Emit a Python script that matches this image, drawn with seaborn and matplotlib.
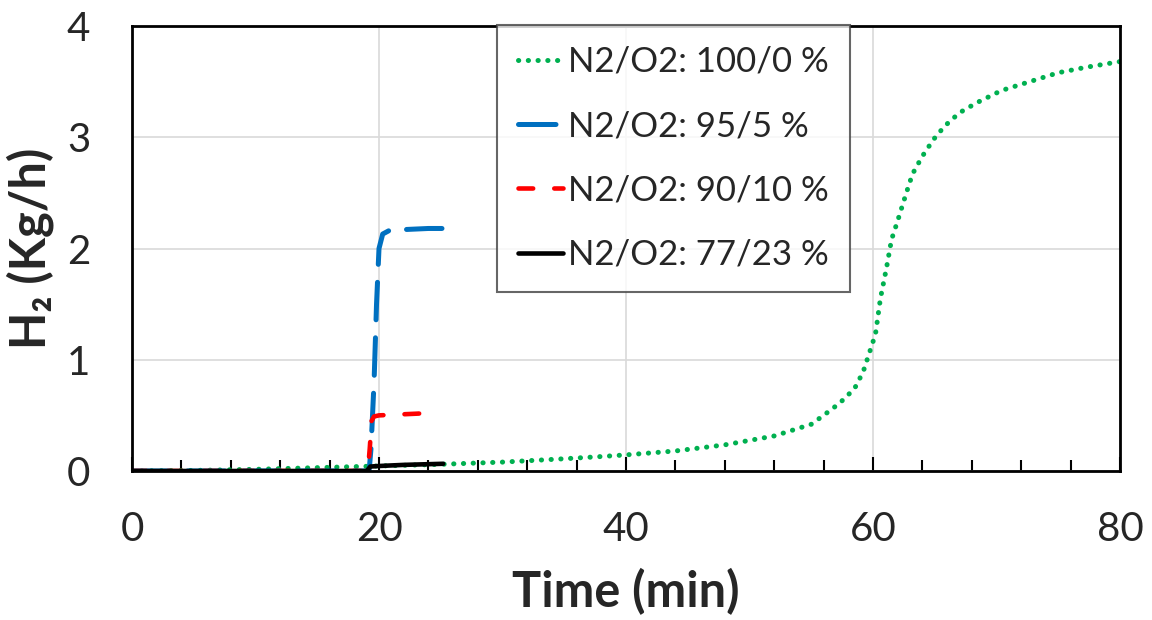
import numpy as np
import pandas as pd
import matplotlib
matplotlib.use("Agg")
import matplotlib.pyplot as plt
import seaborn as sns
from matplotlib.ticker import MultipleLocator

# ---- data ----
green_t = [0, 5, 10, 15, 20, 25, 30, 35, 38, 40, 44, 48, 52, 55, 56, 57.3, 58.5, 59.2,
           59.7, 60.2, 60.6, 61.1, 61.5, 62.0, 62.7, 63.2, 64.0, 64.9, 65.8, 67.0, 68.4,
           70.4, 72.7, 75.0, 77.3, 80]
green_v = [0.0, 0.005, 0.015, 0.03, 0.045, 0.06, 0.08, 0.11, 0.13, 0.145, 0.18, 0.235,
           0.315, 0.42, 0.50, 0.61, 0.74, 0.89, 1.06, 1.23, 1.55, 1.83, 2.08, 2.25, 2.50,
           2.67, 2.83, 2.98, 3.10, 3.22, 3.31, 3.42, 3.50, 3.58, 3.63, 3.68]

blue_t = [0, 19.2, 19.35, 19.6, 19.8, 20.0, 20.3, 20.8, 22, 24, 25.1]
blue_v = [0.0, 0.0, 0.2, 0.8, 1.5, 2.0, 2.13, 2.16, 2.17, 2.18, 2.18]

red_t = [0, 19.1, 19.25, 19.4, 19.6, 20.0, 21, 23, 24.8]
red_v = [0.0, 0.0, 0.2, 0.45, 0.49, 0.50, 0.505, 0.515, 0.525]

black_t = [0, 19.0, 19.3, 20, 22, 25.2]
black_v = [0.0, 0.0, 0.04, 0.045, 0.055, 0.065]

labels = ["N2/O2: 100/0 %", "N2/O2: 95/5 %", "N2/O2: 90/10 %", "N2/O2: 77/23 %"]
x_ticks = [0, 20, 40, 60, 80]
y_ticks = [0, 1, 2, 3, 4]

sns.set_theme(style="white")
plt.rcParams["font.family"] = ["Lato", "DejaVu Sans"]

fig = plt.figure(figsize=(11.52, 6.2), dpi=100)
ax = fig.add_axes([132 / 1152, 1 - 471 / 620, (1120 - 132) / 1152, (471 - 26) / 620])

series = [
    (green_t, green_v, "#00B050", 3.6, (0, (0.05, 1.9)), labels[0]),
    (blue_t, blue_v, "#0070C0", 3.6, (0, (7.5, 3.6)), labels[1]),
    (red_t, red_v, "#FF0000", 3.3, (0, (3.2, 4.6)), labels[2]),
    (black_t, black_v, "#000000", 3.3, "-", labels[3]),
]
for t, v, c, lw, ls, lab in series:
    df = pd.DataFrame({"t": t, "v": v})
    sns.lineplot(data=df, x="t", y="v", ax=ax, color=c, lw=lw, linestyle=ls,
                 dash_capstyle="round", solid_capstyle="round", label=lab,
                 sort=False, estimator=None)

ax.set_xlim(0, 80)
ax.set_ylim(0, 4)
ax.set_xticks(x_ticks)
ax.set_yticks(y_ticks)
ax.xaxis.set_minor_locator(MultipleLocator(4))
ax.grid(True, which="major", color="#d9d9d9", lw=1.2)
ax.set_axisbelow(True)
for s in ax.spines.values():
    s.set_color("black")
    s.set_linewidth(2)
ax.tick_params(axis="x", which="major", direction="in", length=10, width=1.5,
               color="black", labelsize=29, pad=29, bottom=True)
ax.tick_params(axis="x", which="minor", direction="in", length=8, width=1.5,
               color="black", bottom=True)
ax.tick_params(axis="y", which="major", length=0, labelsize=29, pad=30)

ax.set_xlabel("Time (min)", fontsize=35, fontweight="bold", labelpad=14)
ax.set_ylabel("H\u2082 (Kg/h)", fontsize=35, fontweight="bold", labelpad=9)

leg = ax.legend(loc="upper left", bbox_to_anchor=(497 / 1152, 1 - 25 / 620),
                bbox_transform=fig.transFigure, fontsize=25, frameon=True,
                fancybox=False, edgecolor="#404040", handlelength=1.3,
                handletextpad=0.15, labelspacing=0.93, borderpad=0.6,
                borderaxespad=0)
leg.get_frame().set_linewidth(1.5)

fig.savefig("out.png", dpi=100)
